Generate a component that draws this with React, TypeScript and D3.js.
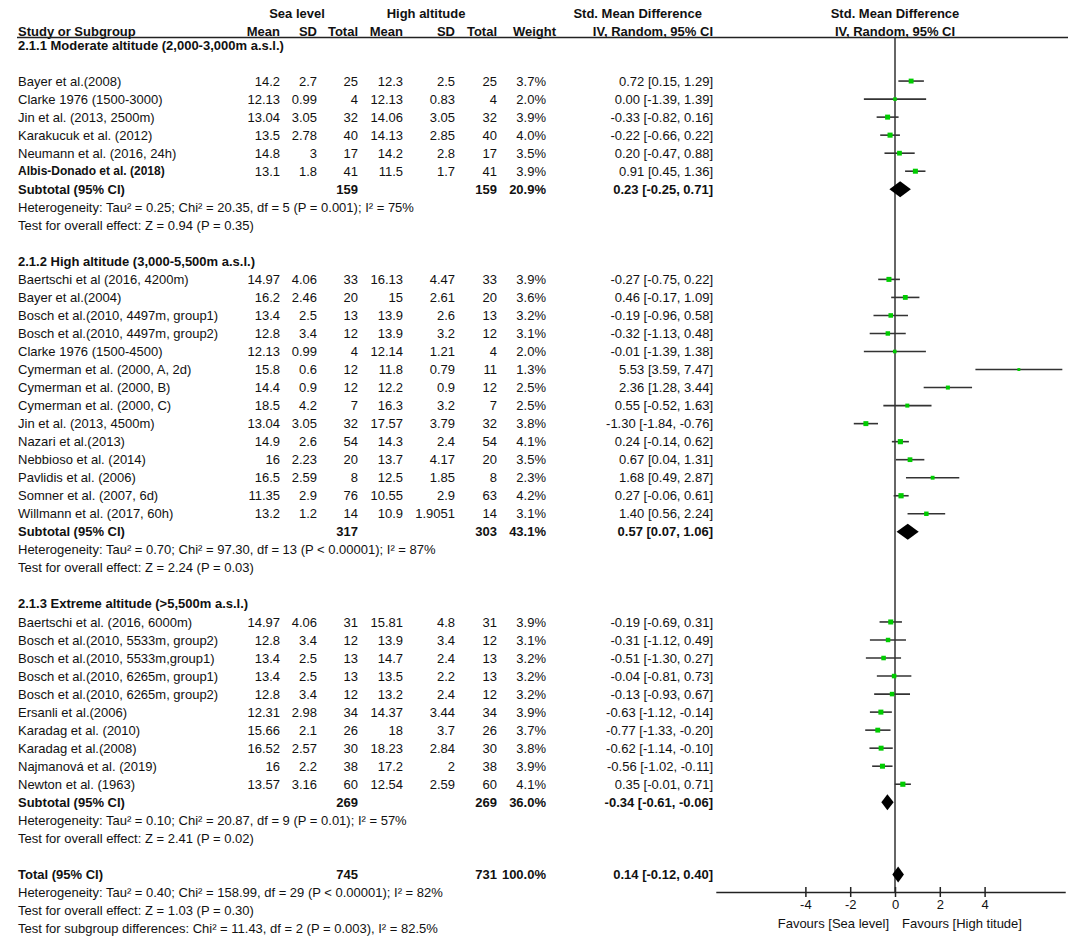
import { useEffect, useRef } from "react"
import * as d3 from "d3"

// subgroup titles and summary lines
const subgroupTitles = [
  "2.1.1 Moderate altitude (2,000-3,000m a.s.l.)",
  "2.1.2 High altitude (3,000-5,500m a.s.l.)",
  "2.1.3 Extreme altitude (>5,500m a.s.l.)",
]
const subgroupSeaN = [159, 317, 269]
const subgroupHighN = [159, 303, 269]
const subgroupWeight = [20.9, 43.1, 36.0]
const subgroupSmd = [0.23, 0.57, -0.34]
const subgroupLow = [-0.25, 0.07, -0.61]
const subgroupHigh = [0.71, 1.06, -0.06]
const subgroupHeterogeneity = [
  "Heterogeneity: Tau² = 0.25; Chi² = 20.35, df = 5 (P = 0.001); I² = 75%",
  "Heterogeneity: Tau² = 0.70; Chi² = 97.30, df = 13 (P < 0.00001); I² = 87%",
  "Heterogeneity: Tau² = 0.10; Chi² = 20.87, df = 9 (P = 0.01); I² = 57%",
]
const subgroupEffect = [
  "Test for overall effect: Z = 0.94 (P = 0.35)",
  "Test for overall effect: Z = 2.24 (P = 0.03)",
  "Test for overall effect: Z = 2.41 (P = 0.02)",
]

// studies
const studyNames = [
  "Bayer et al.(2008)",
  "Clarke 1976 (1500-3000)",
  "Jin et al. (2013, 2500m)",
  "Karakucuk et al. (2012)",
  "Neumann et al. (2016, 24h)",
  "Albis-Donado et al. (2018)",
  "Baertschi et al (2016, 4200m)",
  "Bayer et al.(2004)",
  "Bosch et al.(2010, 4497m, group1)",
  "Bosch et al.(2010, 4497m, group2)",
  "Clarke 1976 (1500-4500)",
  "Cymerman et al. (2000, A, 2d)",
  "Cymerman et al. (2000, B)",
  "Cymerman et al. (2000, C)",
  "Jin et al. (2013, 4500m)",
  "Nazari et al.(2013)",
  "Nebbioso et al. (2014)",
  "Pavlidis et al. (2006)",
  "Somner et al. (2007, 6d)",
  "Willmann et al. (2017, 60h)",
  "Baertschi et al. (2016, 6000m)",
  "Bosch et al.(2010, 5533m, group2)",
  "Bosch et al.(2010, 5533m,group1)",
  "Bosch et al.(2010, 6265m, group1)",
  "Bosch et al.(2010, 6265m, group2)",
  "Ersanli et al.(2006)",
  "Karadag et al. (2010)",
  "Karadag et al.(2008)",
  "Najmanová et al. (2019)",
  "Newton et al. (1963)",
]
const studyGroup = [0, 0, 0, 0, 0, 0, 1, 1, 1, 1, 1, 1, 1, 1, 1, 1, 1, 1, 1, 1, 2, 2, 2, 2, 2, 2, 2, 2, 2, 2]
const seaMean = [14.2, 12.13, 13.04, 13.5, 14.8, 13.1, 14.97, 16.2, 13.4, 12.8, 12.13, 15.8, 14.4, 18.5, 13.04, 14.9, 16, 16.5, 11.35, 13.2, 14.97, 12.8, 13.4, 13.4, 12.8, 12.31, 15.66, 16.52, 16, 13.57]
const seaSD = [2.7, 0.99, 3.05, 2.78, 3, 1.8, 4.06, 2.46, 2.5, 3.4, 0.99, 0.6, 0.9, 4.2, 3.05, 2.6, 2.23, 2.59, 2.9, 1.2, 4.06, 3.4, 2.5, 2.5, 3.4, 2.98, 2.1, 2.57, 2.2, 3.16]
const seaN = [25, 4, 32, 40, 17, 41, 33, 20, 13, 12, 4, 12, 12, 7, 32, 54, 20, 8, 76, 14, 31, 12, 13, 13, 12, 34, 26, 30, 38, 60]
const highMean = [12.3, 12.13, 14.06, 14.13, 14.2, 11.5, 16.13, 15, 13.9, 13.9, 12.14, 11.8, 12.2, 16.3, 17.57, 14.3, 13.7, 12.5, 10.55, 10.9, 15.81, 13.9, 14.7, 13.5, 13.2, 14.37, 18, 18.23, 17.2, 12.54]
const highSD = [2.5, 0.83, 3.05, 2.85, 2.8, 1.7, 4.47, 2.61, 2.6, 3.2, 1.21, 0.79, 0.9, 3.2, 3.79, 2.4, 4.17, 1.85, 2.9, 1.9051, 4.8, 3.4, 2.4, 2.2, 2.4, 3.44, 3.7, 2.84, 2, 2.59]
const highN = [25, 4, 32, 40, 17, 41, 33, 20, 13, 12, 4, 11, 12, 7, 32, 54, 20, 8, 63, 14, 31, 12, 13, 13, 12, 34, 26, 30, 38, 60]
const weights = [3.7, 2.0, 3.9, 4.0, 3.5, 3.9, 3.9, 3.6, 3.2, 3.1, 2.0, 1.3, 2.5, 2.5, 3.8, 4.1, 3.5, 2.3, 4.2, 3.1, 3.9, 3.1, 3.2, 3.2, 3.2, 3.9, 3.7, 3.8, 3.9, 4.1]
const smd = [0.72, 0.0, -0.33, -0.22, 0.2, 0.91, -0.27, 0.46, -0.19, -0.32, -0.01, 5.53, 2.36, 0.55, -1.3, 0.24, 0.67, 1.68, 0.27, 1.4, -0.19, -0.31, -0.51, -0.04, -0.13, -0.63, -0.77, -0.62, -0.56, 0.35]
const ciLow = [0.15, -1.39, -0.82, -0.66, -0.47, 0.45, -0.75, -0.17, -0.96, -1.13, -1.39, 3.59, 1.28, -0.52, -1.84, -0.14, 0.04, 0.49, -0.06, 0.56, -0.69, -1.12, -1.3, -0.81, -0.93, -1.12, -1.33, -1.14, -1.02, -0.01]
const ciHigh = [1.29, 1.39, 0.16, 0.22, 0.88, 1.36, 0.22, 1.09, 0.58, 0.48, 1.38, 7.47, 3.44, 1.63, -0.76, 0.62, 1.31, 2.87, 0.61, 2.24, 0.31, 0.49, 0.27, 0.73, 0.67, -0.14, -0.2, -0.1, -0.11, 0.71]

// overall
const totalSeaN = 745
const totalHighN = 731
const totalWeight = 100.0
const totalSmd = 0.14
const totalLow = -0.12
const totalHigh = 0.4
const totalNotes = [
  "Heterogeneity: Tau² = 0.40; Chi² = 158.99, df = 29 (P < 0.00001); I² = 82%",
  "Test for overall effect: Z = 1.03 (P = 0.30)",
  "Test for subgroup differences: Chi² = 11.43, df = 2 (P = 0.003), I² = 82.5%",
]

const axisTicks = [-4, -2, 0, 2, 4]
const axisDomain = [-8, 7.6]

const ci = (m: number, lo: number, hi: number) => `${m.toFixed(2)} [${lo.toFixed(2)}, ${hi.toFixed(2)}]`

export default function App() {
  const svgRef = useRef<SVGSVGElement>(null)

  useEffect(() => {
    if (!svgRef.current) return
    const svg = d3.select(svgRef.current)
    svg.selectAll("*").remove()

    const width = 1084
    const height = 944
    const font = "'Liberation Sans', Arial, sans-serif"

    svg.append("rect").attr("width", width).attr("height", height).attr("fill", "#fff")

    // assign rows
    const studyRow: number[] = []
    const headerRow: number[] = []
    const subRow: number[] = []
    let r = 0
    subgroupTitles.forEach((_, g) => {
      headerRow[g] = r
      r += g === 0 ? 2 : 1
      studyNames.forEach((_, i) => {
        if (studyGroup[i] === g) studyRow[i] = r++
      })
      subRow[g] = r
      r += 4
    })
    const totalRow = r
    const lastRow = totalRow + 3

    const y = d3.scaleLinear().domain([0, lastRow]).range([45, 45 + lastRow * 18.03])
    // zero at 895, ~22.4px per unit
    const x = d3.scaleLinear().domain(axisDomain).range([895 - 8 * 22.4, 895 + 7.6 * 22.4])
    const size = d3.scaleSqrt().domain([0, 4.2]).range([0, 5.2])

    const col = {
      name: 18,
      seaMean: 280,
      seaSD: 317,
      seaN: 358,
      highMean: 403,
      highSD: 455,
      highN: 497,
      weight: 546,
      ci: 713,
    }

    const g = svg.append("g").attr("font-family", font).attr("font-size", 13).attr("fill", "#111")

    const text = (tx: number, ty: number, s: string, anchor = "end", bold = false) =>
      g
        .append("text")
        .attr("x", tx)
        .attr("y", ty)
        .attr("dy", "0.35em")
        .attr("text-anchor", anchor)
        .attr("font-weight", bold ? "bold" : "normal")
        .text(s)

    // headers
    text(297, 13, "Sea level", "middle", true)
    text(426, 13, "High altitude", "middle", true)
    text(702, 13, "Std. Mean Difference", "end", true)
    text(x(0), 13, "Std. Mean Difference", "middle", true)
    text(col.name, 31, "Study or Subgroup", "start", true)
    text(col.seaMean, 31, "Mean", "end", true)
    text(col.seaSD, 31, "SD", "end", true)
    text(col.seaN, 31, "Total", "end", true)
    text(col.highMean, 31, "Mean", "end", true)
    text(col.highSD, 31, "SD", "end", true)
    text(col.highN, 31, "Total", "end", true)
    text(col.weight + 10, 31, "Weight", "end", true)
    text(col.ci, 31, "IV, Random, 95% CI", "end", true)
    text(x(0), 31, "IV, Random, 95% CI", "middle", true)

    svg.append("line").attr("x1", 17).attr("x2", 1068).attr("y1", 37.5).attr("y2", 37.5).attr("stroke", "#222").attr("stroke-width", 1.5)

    // zero line
    svg.append("line")
      .attr("x1", x(0)).attr("x2", x(0))
      .attr("y1", 37).attr("y2", 892)
      .attr("stroke", "#333").attr("stroke-width", 1.5)

    // studies
    studyNames.forEach((name, i) => {
      const yy = y(studyRow[i])
      const t = text(col.name, yy, name, "start", i === 5)
      if (i === 5) t.attr("font-size", 12)
      text(col.seaMean, yy, String(seaMean[i]))
      text(col.seaSD, yy, String(seaSD[i]))
      text(col.seaN, yy, String(seaN[i]))
      text(col.highMean, yy, String(highMean[i]))
      text(col.highSD, yy, String(highSD[i]))
      text(col.highN, yy, String(highN[i]))
      text(col.weight, yy, `${weights[i].toFixed(1)}%`)
      text(col.ci, yy, ci(smd[i], ciLow[i], ciHigh[i]))
    })

    const plot = svg.append("g")
    plot.selectAll(".ci")
      .data(studyNames)
      .enter()
      .append("line")
      .attr("x1", (_, i) => x(ciLow[i]))
      .attr("x2", (_, i) => x(ciHigh[i]))
      .attr("y1", (_, i) => y(studyRow[i]))
      .attr("y2", (_, i) => y(studyRow[i]))
      .attr("stroke", "#333")
      .attr("stroke-width", 1.6)

    plot.selectAll(".sq")
      .data(studyNames)
      .enter()
      .append("rect")
      .attr("x", (_, i) => x(smd[i]) - size(weights[i]) / 2)
      .attr("y", (_, i) => y(studyRow[i]) - size(weights[i]) / 2)
      .attr("width", (_, i) => size(weights[i]))
      .attr("height", (_, i) => size(weights[i]))
      .attr("fill", "#00cc00")

    const diamond = (m: number, lo: number, hi: number, yy: number) =>
      plot.append("path")
        .attr("d", `M${x(lo)},${yy}L${x(m)},${yy - 8}L${x(hi)},${yy}L${x(m)},${yy + 8}Z`)
        .attr("fill", "#000")

    // subgroup summaries
    subgroupTitles.forEach((title, gi) => {
      text(col.name, y(headerRow[gi]), title, "start", true)
      const ys = y(subRow[gi])
      text(col.name, ys, "Subtotal (95% CI)", "start", true)
      text(col.seaN, ys, String(subgroupSeaN[gi]), "end", true)
      text(col.highN, ys, String(subgroupHighN[gi]), "end", true)
      text(col.weight, ys, `${subgroupWeight[gi].toFixed(1)}%`, "end", true)
      text(col.ci, ys, ci(subgroupSmd[gi], subgroupLow[gi], subgroupHigh[gi]), "end", true)
      text(col.name, y(subRow[gi] + 1), subgroupHeterogeneity[gi], "start")
      text(col.name, y(subRow[gi] + 2), subgroupEffect[gi], "start")
      diamond(subgroupSmd[gi], subgroupLow[gi], subgroupHigh[gi], ys)
    })

    // total
    const yt = y(totalRow)
    text(col.name, yt, "Total (95% CI)", "start", true)
    text(col.seaN, yt, String(totalSeaN), "end", true)
    text(col.highN, yt, String(totalHighN), "end", true)
    text(col.weight, yt, `${totalWeight.toFixed(1)}%`, "end", true)
    text(col.ci, yt, ci(totalSmd, totalLow, totalHigh), "end", true)
    totalNotes.forEach((s, k) => text(col.name, y(totalRow + 1 + k), s, "start"))
    diamond(totalSmd, totalLow, totalHigh, yt)

    // axis
    const axisY = 892
    const ax = svg.append("g")
      .attr("transform", `translate(0,${axisY})`)
      .call(d3.axisBottom(x).tickValues(axisTicks).tickSizeOuter(0).tickSizeInner(5).tickPadding(3).tickFormat(d3.format("d")))
    ax.select(".domain").attr("stroke", "#222").attr("stroke-width", 1.5)
    ax.selectAll(".tick line").attr("y1", -5).attr("y2", 5).attr("stroke", "#222").attr("stroke-width", 1.5)
    ax.selectAll(".tick text")
      .attr("font-family", font)
      .attr("font-size", 13)
      .attr("fill", "#111")
      .text((d) => String(d).replace("−", "-"))

    text(x(0) - 6, 923, "Favours [Sea level]", "end")
    text(x(0) + 7, 923, "Favours [High titude]", "start")
  }, [])

  return <svg ref={svgRef} width={1084} height={944} style={{ position: "absolute", left: 0, top: 0 }} />
}
